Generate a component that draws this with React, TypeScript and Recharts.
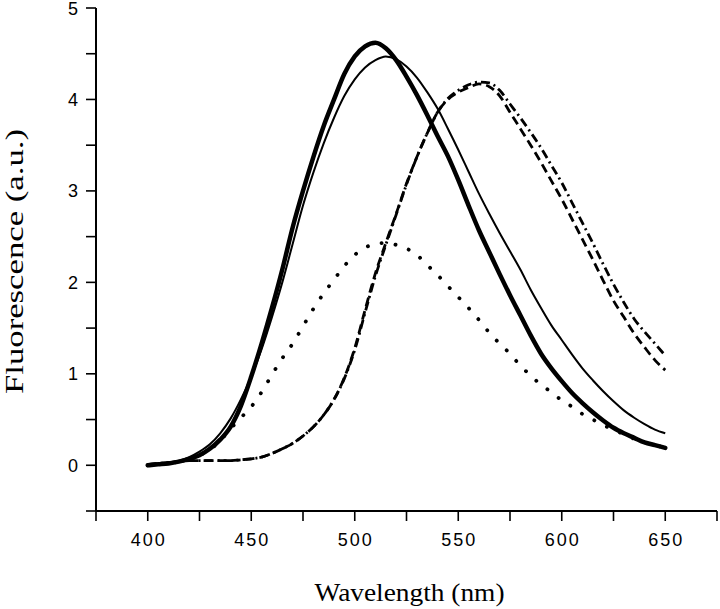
import { LineChart, Line, XAxis, YAxis } from "recharts";

const wavelengths = [
  400, 405, 410, 415, 420, 425, 430, 435, 440, 445, 450, 455, 460, 465, 470, 475, 480,
  485, 490, 495, 500, 505, 510, 515, 520, 525, 530, 535, 540, 545, 550, 555, 560, 565,
  570, 575, 580, 585, 590, 595, 600, 605, 610, 615, 620, 625, 630, 635, 640, 645, 650,
];

// thick solid
const thickSolid = [
  0.0, 0.01, 0.02, 0.04, 0.07, 0.11, 0.18, 0.28, 0.42, 0.65, 0.97, 1.33, 1.72, 2.14, 2.6,
  3.0, 3.37, 3.71, 4.0, 4.28, 4.47, 4.58, 4.62, 4.56, 4.43, 4.25, 4.05, 3.83, 3.6, 3.38,
  3.12, 2.84, 2.57, 2.33, 2.09, 1.86, 1.64, 1.42, 1.22, 1.06, 0.92, 0.79, 0.68, 0.58,
  0.49, 0.41, 0.35, 0.3, 0.25, 0.22, 0.19,
];

// thin solid
const thinSolid = [
  0.0, 0.01, 0.03, 0.05, 0.09, 0.15, 0.23, 0.35, 0.51, 0.72, 0.97, 1.27, 1.62, 2.0, 2.42,
  2.84, 3.2, 3.52, 3.8, 4.04, 4.22, 4.35, 4.43, 4.47, 4.44, 4.36, 4.24, 4.08, 3.9, 3.68,
  3.45, 3.21, 2.97, 2.75, 2.54, 2.34, 2.14, 1.92, 1.72, 1.53, 1.37, 1.21, 1.06, 0.93,
  0.81, 0.7, 0.6, 0.52, 0.45, 0.39, 0.35,
];

// dotted
const dotted = [
  0.0, 0.01, 0.02, 0.04, 0.07, 0.11, 0.17, 0.27, 0.4, 0.52, 0.64, 0.8, 0.99, 1.17, 1.33,
  1.52, 1.71, 1.88, 2.03, 2.18, 2.3, 2.38, 2.42, 2.43, 2.41, 2.37, 2.3, 2.19, 2.08, 1.96,
  1.84, 1.72, 1.59, 1.45, 1.33, 1.22, 1.09, 0.98, 0.88, 0.8, 0.71, 0.64, 0.56, 0.5, 0.44,
  0.39, 0.34, 0.29, 0.25, 0.22, 0.19,
];

// dashed
const dashed = [
  0.01, 0.02, 0.03, 0.04, 0.05, 0.05, 0.05, 0.05, 0.05, 0.06, 0.07, 0.09, 0.13, 0.18,
  0.24, 0.32, 0.42, 0.55, 0.72, 0.96, 1.28, 1.7, 2.1, 2.43, 2.75, 3.08, 3.37, 3.63, 3.86,
  4.0, 4.08, 4.13, 4.17, 4.14, 4.04, 3.86, 3.68, 3.5, 3.31, 3.11, 2.91, 2.69, 2.47, 2.25,
  2.02, 1.8, 1.62, 1.44, 1.29, 1.15, 1.04,
];

// dash-dot
const dashDot = [
  0.01, 0.02, 0.03, 0.04, 0.05, 0.05, 0.05, 0.05, 0.05, 0.06, 0.07, 0.09, 0.13, 0.18,
  0.24, 0.32, 0.42, 0.55, 0.72, 0.95, 1.26, 1.67, 2.07, 2.41, 2.74, 3.07, 3.37, 3.63,
  3.86, 4.01, 4.1, 4.16, 4.19, 4.18, 4.1, 3.95, 3.8, 3.64, 3.47, 3.28, 3.09, 2.87, 2.65,
  2.43, 2.2, 1.98, 1.78, 1.6, 1.46, 1.33, 1.2,
];

const xTicks = [375, 400, 425, 450, 475, 500, 525, 550, 575, 600, 625, 650, 675];
const xLabels = [400, 450, 500, 550, 600, 650];
const yTicks = [-0.5, 0, 0.5, 1, 1.5, 2, 2.5, 3, 3.5, 4, 4.5, 5];
const yLabels = [0, 1, 2, 3, 4, 5];

const data = wavelengths.map((nm, i) => ({
  nm,
  thick: thickSolid[i],
  thin: thinSolid[i],
  dot: dotted[i],
  dash: dashed[i],
  dashDot: dashDot[i],
}));

const sans = "Arial, 'Liberation Sans', sans-serif";
const serif = "'Times New Roman', 'Liberation Serif', serif";

const XTick = (props: any) => {
  const { x, y, payload } = props;
  if (!xLabels.includes(payload.value)) return <g />;
  return (
    <text x={x + 1} y={y + 13} textAnchor="middle" fontFamily={sans} fontSize={18} letterSpacing={2} fill="#000">
      {payload.value}
    </text>
  );
};

const YTick = (props: any) => {
  const { x, y, payload } = props;
  if (!yLabels.includes(payload.value)) return <g />;
  return (
    <text x={x} y={y + 6.5} textAnchor="end" fontFamily={sans} fontSize={18} fill="#000">
      {payload.value}
    </text>
  );
};

const XTitle = (props: any) => {
  const { x, y, width } = props.viewBox;
  return (
    <text x={x + width / 2 + 3} y={y + 90} textAnchor="middle" fontFamily={serif} fontSize={25}
      textLength={190} lengthAdjust="spacingAndGlyphs" fill="#000">
      Wavelength (nm)
    </text>
  );
};

const YTitle = (props: any) => {
  const { x, y, height } = props.viewBox;
  const bx = x + 23;
  const cy = y + height / 2 + 2;
  return (
    <text x={bx} y={cy} transform={`rotate(-90, ${bx}, ${cy})`} textAnchor="middle" fontFamily={serif}
      fontSize={26} textLength={265} lengthAdjust="spacingAndGlyphs" fill="#000">
      Fluorescence (a.u.)
    </text>
  );
};

const axisLine = { stroke: "#000", strokeWidth: 2 };
const tickLine = { stroke: "#000", strokeWidth: 1.6 };

export default function App() {
  return (
    <div style={{ position: "absolute", left: 0, top: 0, background: "#fff" }}>
      <LineChart width={720} height={609} data={data} margin={{ top: 8, right: 3, bottom: 0, left: 0 }}>
        <XAxis
          dataKey="nm"
          type="number"
          domain={[375, 675]}
          ticks={xTicks}
          interval={0}
          height={98}
          tickSize={10}
          tickMargin={12}
          axisLine={axisLine}
          tickLine={tickLine}
          tick={<XTick />}
          label={<XTitle />}
        />
        <YAxis
          type="number"
          domain={[-0.5, 5]}
          ticks={yTicks}
          interval={0}
          width={96}
          tickSize={10}
          tickMargin={8}
          axisLine={axisLine}
          tickLine={tickLine}
          tick={<YTick />}
          label={<YTitle />}
          allowDataOverflow
        />
        <Line dataKey="dot" type="monotone" stroke="#000" strokeWidth={3.8} strokeDasharray="0.1 14"
          strokeLinecap="round" dot={false} isAnimationActive={false} />
        <Line dataKey="dash" type="monotone" stroke="#000" strokeWidth={2.8} strokeDasharray="9 5"
          dot={false} isAnimationActive={false} />
        <Line dataKey="dashDot" type="monotone" stroke="#000" strokeWidth={2.8} strokeDasharray="9 4 2 4"
          dot={false} isAnimationActive={false} />
        <Line dataKey="thin" type="monotone" stroke="#000" strokeWidth={2} dot={false} isAnimationActive={false} />
        <Line dataKey="thick" type="monotone" stroke="#000" strokeWidth={4.5} strokeLinecap="round"
          dot={false} isAnimationActive={false} />
      </LineChart>
    </div>
  );
}
